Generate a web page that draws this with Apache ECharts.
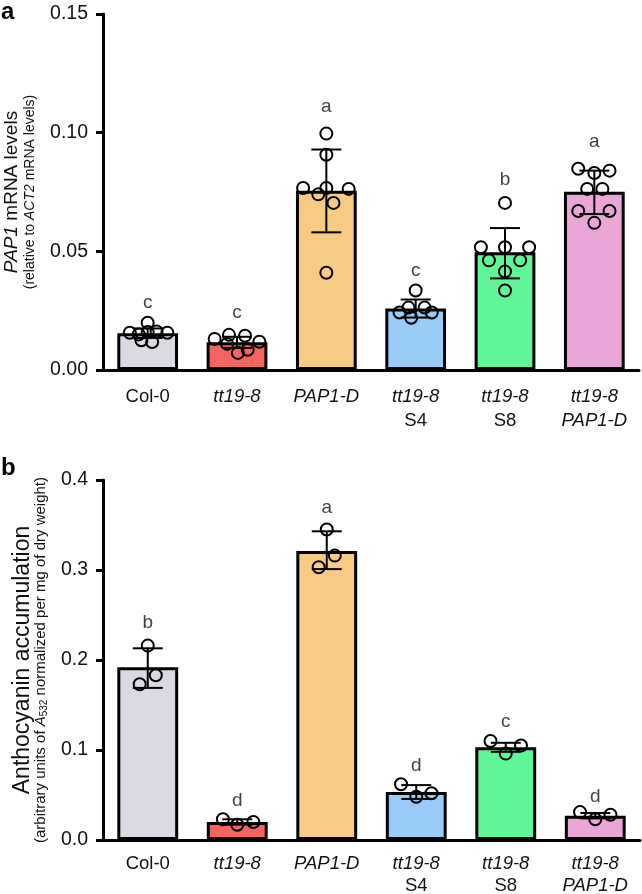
<!DOCTYPE html>
<html><head><meta charset="utf-8">
<script src="https://cdn.jsdelivr.net/npm/echarts@6/dist/echarts.min.js"></script>
<style>html,body{margin:0;padding:0;background:#fff}#c{width:642px;height:894px}</style>
</head><body><div id="c"></div>
<script>
// ---------- data ----------
const categories = ['Col-0', 'tt19-8', 'PAP1-D', 'tt19-8\nS4', 'tt19-8\nS8', 'tt19-8\nPAP1-D'];
const barColors = ['#dadae3', '#f66461', '#f8cb84', '#98cbf6', '#60f597', '#eba6d8'];

// Panel a: PAP1 mRNA levels
const yTicksA = ['0.00', '0.05', '0.10', '0.15'];
const meanA = [0.0155, 0.0117, 0.0755, 0.0259, 0.0496, 0.0751];
const errLowA = [0.0135, 0.0093, 0.0580, 0.0221, 0.0386, 0.0657];
const errHighA = [0.0175, 0.0140, 0.0929, 0.0297, 0.0598, 0.0840];
const lettersA = ['c', 'c', 'a', 'c', 'b', 'a'];
const letterPosA = [0.0284, 0.0242, 0.111, 0.042, 0.0802, 0.096];
// individual points: [horizontal jitter (category units), value]
const pointsA = [
  [[-0.20, 0.0157], [-0.10, 0.0150], [0.00, 0.0199], [0.10, 0.0162], [0.22, 0.0157], [-0.07, 0.0125], [0.05, 0.0118], [0.00, 0.0160]],
  [[-0.25, 0.0131], [-0.09, 0.0148], [0.09, 0.0144], [0.25, 0.0119], [-0.11, 0.0110], [0.01, 0.0072], [0.12, 0.0085]],
  [[0.00, 0.0996], [0.00, 0.0907], [-0.26, 0.0767], [-0.09, 0.0740], [0.00, 0.0767], [0.08, 0.0704], [0.25, 0.0763], [0.00, 0.0410]],
  [[0.00, 0.0335], [-0.08, 0.0263], [0.10, 0.0263], [-0.18, 0.0242], [0.18, 0.0242], [-0.05, 0.0220]],
  [[0.00, 0.0704], [-0.27, 0.0517], [0.00, 0.0517], [0.27, 0.0517], [-0.18, 0.0462], [0.17, 0.0462], [0.00, 0.0415], [0.00, 0.0335]],
  [[-0.18, 0.0848], [0.00, 0.0830], [0.17, 0.0840], [-0.08, 0.0763], [0.09, 0.0763], [-0.18, 0.0670], [0.17, 0.0670], [0.00, 0.0620]]
];

// Panel b: anthocyanin accumulation
const yTicksB = ['0.0', '0.1', '0.2', '0.3', '0.4'];
const meanB = [0.192, 0.020, 0.321, 0.0533, 0.103, 0.027];
const errLowB = [0.169, 0.017, 0.301, 0.0456, 0.098, 0.024];
const errHighB = [0.213, 0.023, 0.343, 0.061, 0.108, 0.030];
const lettersB = ['b', 'd', 'a', 'd', 'c', 'd'];
const letterPosB = [0.241, 0.044, 0.369, 0.082, 0.131, 0.048];
const pointsB = [
  [[0.00, 0.216], [-0.09, 0.173], [0.09, 0.183]],
  [[-0.16, 0.023], [0.00, 0.017], [0.18, 0.020]],
  [[0.00, 0.345], [0.09, 0.316], [-0.09, 0.303]],
  [[-0.17, 0.062], [0.00, 0.048], [0.17, 0.052]],
  [[-0.17, 0.110], [0.00, 0.096], [0.17, 0.105]],
  [[-0.17, 0.031], [0.00, 0.023], [0.17, 0.028]]
];

// ---------- chart ----------
const FONT = '"Liberation Sans", Arial, Helvetica, sans-serif';
const chart = echarts.init(document.getElementById('c'), null, {renderer: 'canvas'});

function catLabel(v) {
  return v.split('\n').map(l => (/tt19|PAP1/.test(l) ? '{i|' + l + '}' : '{n|' + l + '}')).join('\n');
}

const grids = [
  {left: 103, top: 14, width: 536, height: 356, containLabel: false, outerBoundsMode: 'none'},
  {left: 103, top: 480, width: 537, height: 360, containLabel: false, outerBoundsMode: 'none'}
];

const xAxes = [];
const yAxes = [];
const series = [];

function buildPanel(g, yMax, yInt, yTicks, yName, xMargin, xLH, mean, lo, hi, letters, letterPos, points) {
  const catIdx = xAxes.length;
  xAxes.push({
    gridIndex: g, type: 'category', data: categories,
    axisLine: {onZero: false, lineStyle: {color: '#000', width: 3}},
    axisTick: {alignWithLabel: true, length: 7, lineStyle: {color: '#000', width: 3}},
    axisLabel: {
      interval: 0, margin: xMargin, formatter: catLabel,
      rich: {
        i: {fontFamily: FONT, fontSize: 18.5, fontStyle: 'italic', color: '#111', lineHeight: xLH},
        n: {fontFamily: FONT, fontSize: 18.5, color: '#111', lineHeight: xLH}
      }
    }
  });
  const valIdx = xAxes.length;
  xAxes.push({gridIndex: g, type: 'value', min: -0.5, max: 5.5, show: false});
  const yIdx = yAxes.length;
  yAxes.push({
    gridIndex: g, type: 'value', min: 0, max: yMax, interval: yInt,
    splitLine: {show: false},
    axisLine: {show: true, onZero: false, lineStyle: {color: '#000', width: 3}},
    axisTick: {show: true, length: 7, lineStyle: {color: '#000', width: 3}},
    axisLabel: {
      margin: 15, fontFamily: FONT, fontSize: 19.5, color: '#111',
      formatter: (v) => yTicks[Math.round(v / yInt)]
    },
    name: yName.text, nameLocation: 'middle', nameRotate: 90, nameGap: yName.gap,
    nameTextStyle: {rich: yName.rich, color: '#111'}
  });

  series.push({
    type: 'bar', xAxisIndex: catIdx, yAxisIndex: yIdx, barWidth: '68%',
    data: mean.map((v, i) => ({value: v, itemStyle: {color: barColors[i]}})),
    itemStyle: {borderColor: '#000', borderWidth: 3},
    silent: true, z: 2
  });
  series.push({
    type: 'custom', xAxisIndex: catIdx, yAxisIndex: yIdx, z: 3, silent: true,
    data: mean.map((v, i) => [i, lo[i], hi[i]]),
    encode: {x: 0, y: [1, 2]},
    renderItem: function (params, api) {
      const x = api.value(0);
      const pLo = api.coord([x, api.value(1)]);
      const pHi = api.coord([x, api.value(2)]);
      const hw = 15;
      const st = {stroke: '#000', lineWidth: 2};
      return {type: 'group', children: [
        {type: 'line', shape: {x1: pLo[0], y1: pLo[1], x2: pHi[0], y2: pHi[1]}, style: st},
        {type: 'line', shape: {x1: pHi[0] - hw, y1: pHi[1], x2: pHi[0] + hw, y2: pHi[1]}, style: st},
        {type: 'line', shape: {x1: pLo[0] - hw, y1: pLo[1], x2: pLo[0] + hw, y2: pLo[1]}, style: st}
      ]};
    }
  });
  const pts = [];
  points.forEach((grp, i) => grp.forEach(p => pts.push([i + p[0], p[1]])));
  series.push({
    type: 'scatter', xAxisIndex: valIdx, yAxisIndex: yIdx, z: 4, silent: true,
    symbol: 'circle', symbolSize: 12,
    itemStyle: {color: 'rgba(0,0,0,0)', borderColor: '#000', borderWidth: 2, opacity: 1},
    data: pts
  });
  series.push({
    type: 'scatter', xAxisIndex: catIdx, yAxisIndex: yIdx, z: 5, silent: true,
    symbol: 'circle', symbolSize: 1, itemStyle: {color: 'rgba(0,0,0,0)'},
    label: {show: true, position: 'inside', formatter: p => letters[p.dataIndex],
            fontFamily: FONT, fontSize: 19, color: '#111'},
    data: letterPos.map((v, i) => [i, v])
  });
}

buildPanel(0, 0.15, 0.05, yTicksA, {
  text: '{mi|PAP1}{m| mRNA levels}\n{s|(relative to }{si|ACT2}{s| mRNA levels)}',
  gap: 64,
  rich: {
    mi: {fontFamily: FONT, fontSize: 19, fontStyle: 'italic', color: '#111', lineHeight: 20},
    m: {fontFamily: FONT, fontSize: 19, color: '#111', lineHeight: 20},
    s: {fontFamily: FONT, fontSize: 14, color: '#111', lineHeight: 17},
    si: {fontFamily: FONT, fontSize: 14, fontStyle: 'italic', color: '#111', lineHeight: 17}
  }
}, 15, 24, meanA, errLowA, errHighA, lettersA, letterPosA, pointsA);

buildPanel(1, 0.4, 0.1, yTicksB, {
  text: '{m|Anthocyanin accumulation}\n{s|(arbitrary units of }{si|A}{sub|532}{s| normalized per mg of dry weight)}',
  gap: 54,
  rich: {
    m: {fontFamily: FONT, fontSize: 23, color: '#111', lineHeight: 20},
    s: {fontFamily: FONT, fontSize: 15, color: '#111', lineHeight: 16},
    si: {fontFamily: FONT, fontSize: 15, fontStyle: 'italic', color: '#111', lineHeight: 16},
    sub: {fontFamily: FONT, fontSize: 10, color: '#111', lineHeight: 16, verticalAlign: 'bottom', padding: [7, 0, 0, 0]}
  }
}, 13, 22, meanB, errLowB, errHighB, lettersB, letterPosB, pointsB);

chart.setOption({
  animation: false,
  backgroundColor: '#fff',
  textStyle: {fontFamily: FONT},
  grid: grids,
  xAxis: xAxes,
  yAxis: yAxes,
  series: series,
  graphic: [
    {type: 'text', left: 1, top: 0, style: {text: 'a', font: 'bold 24px ' + FONT, fill: '#000'}},
    {type: 'text', left: 1, top: 456, style: {text: 'b', font: 'bold 24px ' + FONT, fill: '#000'}}
  ]
});
</script>
</body></html>
